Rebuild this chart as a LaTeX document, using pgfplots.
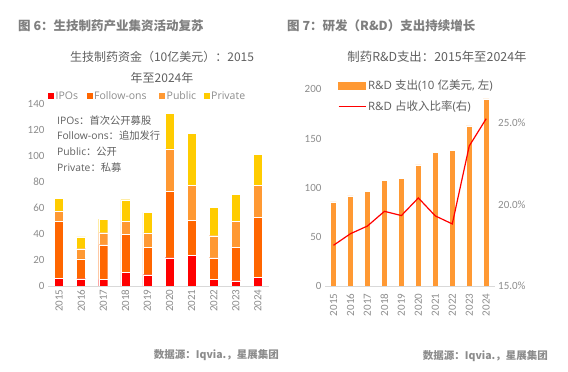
\documentclass[border=0pt]{standalone}
\usepackage{pgfplots}
\pgfplotsset{compat=1.18}
\usepackage{fontspec}
\setmainfont{Carlito}
\newfontfamily\cjk{Noto Sans CJK SC}
\newfontfamily\osans{Open Sans}
\definecolor{cIPO}{HTML}{FF0000}
\definecolor{cFO}{HTML}{FF6600}
\definecolor{cPub}{HTML}{FF9933}
\definecolor{cPri}{HTML}{FFCC00}
\definecolor{tickgray}{HTML}{8C8C8C}
\definecolor{titlegray}{HTML}{7F7F7F}
\definecolor{textgray}{HTML}{5F5F5F}
\definecolor{axisgray}{HTML}{D9D9D9}
\pgfplotsset{
  common/.style={
    scale only axis, xmin=-0.5, xmax=9.5, xtick={0,...,9},
    xticklabels={2015,2016,2017,2018,2019,2020,2021,2022,2023,2024},
    axis x line*=bottom, axis y line*=left,
    x axis line style={draw=axisgray, line width=0.9pt},
    y axis line style={draw=none},
    tick style={draw=none},
    xticklabel style={rotate=90, anchor=east, font=\fontsize{11}{12}\selectfont, text=tickgray},
    yticklabel style={font=\fontsize{11}{12}\selectfont, text=tickgray},
    /pgf/number format/assume math mode=true,
  },
  sq/.style={legend image code/.code={\fill[#1,draw=none] (0pt,-3pt) rectangle (6pt,3pt);}},
}
\begin{document}
\begin{tikzpicture}
\path[use as bounding box] (0pt,0pt) rectangle (568pt,372pt);
% ---------- Left chart ----------
\begin{axis}[common, at={(48pt,86pt)}, anchor=south west,
  width=221pt, height=182pt, ymin=0, ymax=140, ytick={0,20,...,140},
  ybar stacked, bar width=9pt,
  legend columns=4, legend cell align=left,
  legend style={at={(0.0,1.043)}, anchor=west, draw=none, fill=none,
    inner sep=0pt, font=\osans\fontsize{10.5}{12}\selectfont, text=tickgray,
    nodes={inner sep=1.5pt}},
]
\addplot[fill=cIPO, draw=white, line width=0.3pt, sq] coordinates {(0,6.0) (1,5.6) (2,5.1) (3,10.5) (4,8.7) (5,21.8) (6,23.6) (7,5.1) (8,4.1) (9,6.9)};
\addplot[fill=cFO, draw=white, line width=0.3pt, sq] coordinates {(0,43.5) (1,15.2) (2,26.7) (3,29.0) (4,20.8) (5,50.8) (6,26.7) (7,16.7) (8,25.4) (9,45.7)};
\addplot[fill=cPub, draw=white, line width=0.3pt, sq] coordinates {(0,8.2) (1,7.9) (2,9.2) (3,10.0) (4,11.3) (5,32.8) (6,26.9) (7,16.9) (8,20.2) (9,24.6)};
\addplot[fill=cPri, draw=white, line width=0.3pt, sq] coordinates {(0,9.7) (1,9.0) (2,10.5) (3,16.9) (4,15.9) (5,27.6) (6,40.0) (7,21.8) (8,20.8) (9,24.1)};
\addlegendentry{IPOs\rule{7pt}{0pt}}
\addlegendentry{Follow-ons\rule{11pt}{0pt}}
\addlegendentry{Public\rule{6pt}{0pt}}
\addlegendentry{Private}
\end{axis}
% ---------- Right chart: bars ----------
\begin{axis}[common, at={(325pt,86pt)}, anchor=south west,
  width=169.7pt, height=196.7pt, ymin=0, ymax=200, ytick={0,50,...,200},
  ybar, bar width=6pt,
]
\addplot[fill=cPub, draw=white, line width=0.3pt] coordinates {(0,85.5) (1,91.6) (2,96.3) (3,107.5) (4,109.5) (5,123.1) (6,136.0) (7,138.0) (8,162.8) (9,190.2)};
\end{axis}
% ---------- Right chart: ratio line ----------
\begin{axis}[scale only axis, at={(325pt,86pt)}, anchor=south west,
  width=169.7pt, height=196.7pt, xmin=-0.5, xmax=9.5, ymin=15, ymax=27.04,
  axis x line=none, axis y line*=right, y axis line style={draw=none},
  tick style={draw=none},
  ytick={15,20,25}, yticklabels={15.0\%,20.0\%,25.0\%},
  yticklabel style={font=\fontsize{11}{12}\selectfont, text=tickgray},
  legend style={at={(0.075,1.057)}, anchor=north west, draw=none, fill=none,
    inner sep=0pt, font=\osans\fontsize{11.5}{13}\selectfont, text=textgray,
    nodes={inner sep=2pt},
    row sep=5pt},
  legend cell align=left,
]
\addlegendimage{legend image code/.code={\fill[cPub] (0pt,-3.5pt) rectangle (27pt,3.5pt);}}
\addlegendentry{R\&D {\cjk 支出}(10 {\cjk 亿美元}, {\cjk 左})}
\addplot[color=cIPO, line width=1.2pt, legend image code/.code={\draw[cIPO,line width=1.2pt] (0pt,0pt) -- (27pt,0pt);}] coordinates {(0,17.49) (1,18.20) (2,18.67) (3,19.57) (4,19.31) (5,20.39) (6,19.29) (7,18.80) (8,23.57) (9,25.24)};
\addlegendentry{R\&D {\cjk 占收入比率}({\cjk 右})}
\end{axis}
% ---------- Texts ----------
\node[anchor=west, inner sep=0pt, text=titlegray, font=\cjk\bfseries\fontsize{12.5}{14}\selectfont] at (18pt,346pt) {图 6：生技制药产业集资活动复苏};
\node[anchor=west, inner sep=0pt, text=titlegray, font=\cjk\bfseries\fontsize{12.5}{14}\selectfont] at (287pt,346pt) {图 7：研发（R\&D）支出持续增长};
\node[inner sep=0pt, text=textgray, font=\cjk\fontsize{12}{14}\selectfont] at (162pt,315pt) {生技制药资金（10亿美元）：2015};
\node[inner sep=0pt, text=textgray, font=\cjk\fontsize{12}{14}\selectfont] at (162pt,294pt) {年至2024年};
\node[inner sep=0pt, text=textgray, font=\cjk\fontsize{12.4}{14}\selectfont] at (437pt,315pt) {制药R\&D支出：2015年至2024年};
\node[anchor=west, inner sep=0pt, text=textgray, font=\osans\fontsize{10.3}{12}\selectfont] at (57pt,251.3pt) {IPOs{\cjk ：首次公开募股}};
\node[anchor=west, inner sep=0pt, text=textgray, font=\osans\fontsize{10.3}{12}\selectfont] at (57pt,236pt) {Follow-ons{\cjk ：追加发行}};
\node[anchor=west, inner sep=0pt, text=textgray, font=\osans\fontsize{10.3}{12}\selectfont] at (57pt,220pt) {Public{\cjk ：公开}};
\node[anchor=west, inner sep=0pt, text=textgray, font=\osans\fontsize{10.3}{12}\selectfont] at (57pt,204pt) {Private{\cjk ：私募}};
\node[anchor=east, inner sep=0pt, text=tickgray, font=\cjk\bfseries\fontsize{10.5}{12}\selectfont] at (279pt,17pt) {数据源：Iqvia.，星展集团};
\node[anchor=east, inner sep=0pt, text=tickgray, font=\cjk\bfseries\fontsize{10.5}{12}\selectfont] at (548pt,16pt) {数据源：Iqvia.，星展集团};
\end{tikzpicture}
\end{document}
